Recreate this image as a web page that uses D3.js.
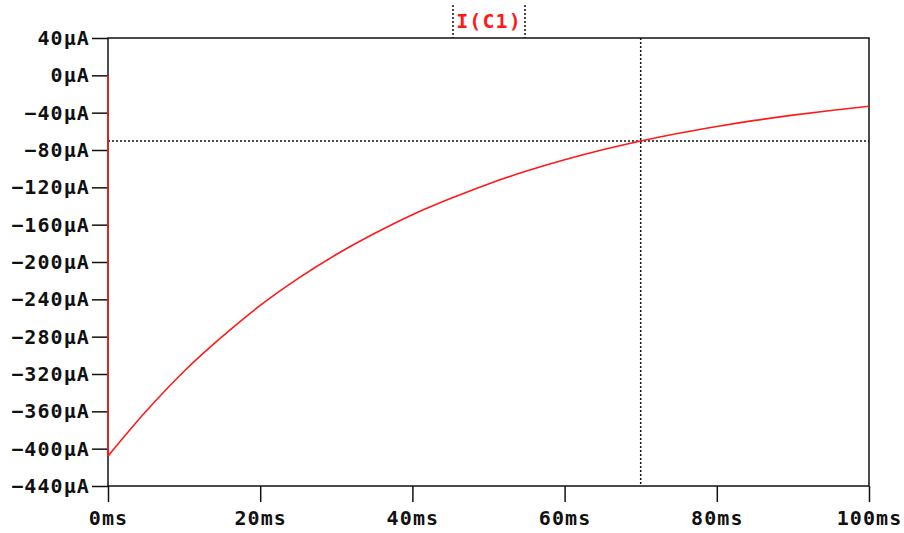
<!DOCTYPE html>
<html>
<head>
<meta charset="utf-8">
<script src="https://cdn.jsdelivr.net/npm/d3@7"></script>
<style>
  html, body { margin: 0; padding: 0; background: #fff; }
  svg { display: block; }
  text { font-family: "DejaVu Sans Mono", "Liberation Mono", monospace; }
</style>
</head>
<body>
<svg id="chart" width="904" height="533"></svg>
<script>
// Capacitor current I(C1) during charging, time in ms, current in µA
const timeMs = [0, 0, 5, 10, 15, 20, 25, 30, 35, 40, 45, 50, 55, 60, 65, 70, 75, 80, 85, 90, 95, 100];
const currentUA = [0, -408, -360, -317, -280, -246.5, -217.5, -192, -169.5, -149.3, -132, -116.3, -102.6, -90.5, -79.8, -70.4, -62.1, -54.8, -48.3, -42.6, -37.6, -33.2];

const xTicks = [0, 20, 40, 60, 80, 100];
const yTicks = [40, 0, -40, -80, -120, -160, -200, -240, -280, -320, -360, -400, -440];

const traceName = "I(C1)";
const cursor = { t: 70, i: -70.4 };

const svg = d3.select("#chart");
const plotL = 108, plotR = 869, plotT = 38, plotB = 486;

const x = d3.scaleLinear().domain([0, 100]).range([plotL, plotR]);
const y = d3.scaleLinear().domain([40, -440]).range([plotT, plotB]);

const ink = "#111";
const fontSize = 20;
const spacing = "1.1px";

// Plot frame
svg.append("rect")
  .attr("x", plotL).attr("y", plotT)
  .attr("width", plotR - plotL).attr("height", plotB - plotT)
  .attr("fill", "none").attr("stroke", ink).attr("stroke-width", 1.5);

// Y axis
const yAxis = d3.axisLeft(y)
  .tickValues(yTicks)
  .tickSize(16)
  .tickPadding(2)
  .tickFormat(d => (d < 0 ? "\u2212" + Math.abs(d) : d) + "\u00b5A");
const gy = svg.append("g").attr("transform", `translate(${plotL},0)`).call(yAxis);
gy.select(".domain").remove();
gy.selectAll(".tick line").attr("stroke", ink).attr("stroke-width", 1.5);
gy.selectAll(".tick text")
  .attr("fill", ink).attr("font-size", fontSize).attr("letter-spacing", spacing)
  .attr("font-family", "DejaVu Sans Mono").attr("font-weight", "bold");

// X axis
const xAxis = d3.axisBottom(x)
  .tickValues(xTicks)
  .tickSize(16)
  .tickPadding(9)
  .tickFormat(d => d + "ms");
const gx = svg.append("g").attr("transform", `translate(0,${plotB})`).call(xAxis);
gx.select(".domain").remove();
gx.selectAll(".tick line").attr("stroke", ink).attr("stroke-width", 1.5);
gx.selectAll(".tick text")
  .attr("fill", ink).attr("font-size", fontSize).attr("letter-spacing", spacing)
  .attr("font-family", "DejaVu Sans Mono").attr("font-weight", "bold");

// Cursor cross-hair
svg.append("line")
  .attr("x1", x(cursor.t)).attr("x2", x(cursor.t))
  .attr("y1", plotT).attr("y2", plotB)
  .attr("stroke", ink).attr("stroke-width", 1.5).attr("stroke-dasharray", "2,2");
svg.append("line")
  .attr("x1", plotL).attr("x2", plotR)
  .attr("y1", y(cursor.i)).attr("y2", y(cursor.i))
  .attr("stroke", ink).attr("stroke-width", 1.5).attr("stroke-dasharray", "2,2");

// Trace: vertical step at switch-on, then smooth decay
const pts = timeMs.map((t, k) => [t, currentUA[k]]);
const line = d3.line().x(d => x(d[0])).y(d => y(d[1]));
svg.append("path")
  .datum(pts.slice(0, 2))
  .attr("fill", "none").attr("stroke", "#ff1a1a").attr("stroke-width", 1.6)
  .attr("d", line);
svg.append("path")
  .datum(pts.slice(1))
  .attr("fill", "none").attr("stroke", "#ff1a1a").attr("stroke-width", 1.6)
  .attr("d", line.curve(d3.curveMonotoneX));

// Trace label with dotted brackets
svg.append("text")
  .attr("x", (x(0) + x(100)) / 2 + 0.5)
  .attr("y", 28)
  .attr("text-anchor", "middle")
  .attr("fill", "#ff1a1a")
  .attr("font-size", fontSize)
  .attr("letter-spacing", spacing)
  .attr("font-weight", "bold")
  .text(traceName);
[453, 525].forEach(px => {
  svg.append("line")
    .attr("x1", px).attr("x2", px).attr("y1", 5).attr("y2", plotT)
    .attr("stroke", ink).attr("stroke-width", 1.5).attr("stroke-dasharray", "2,2");
});
</script>
</body>
</html>
